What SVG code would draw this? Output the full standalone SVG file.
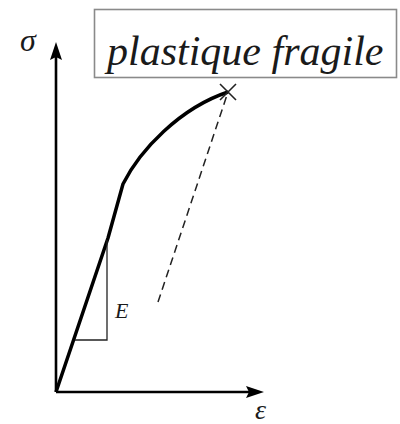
<svg xmlns="http://www.w3.org/2000/svg" width="400" height="424" viewBox="0 0 400 424">
<style>
text{font-family:"Liberation Serif",serif !important;font-style:italic !important}
</style>
<rect width="400" height="424" fill="#fff"/>
<g id="title">
<rect x="94.5" y="9.5" width="302" height="68" fill="#fff" stroke="#8a8a8a" stroke-width="1.6"/>
<text x="107" y="65" font-size="42" style="font-family:'Liberation Serif',serif !important;font-style:italic !important" fill="#1a1a1a">plastique fragile</text>
</g>
<g id="axes" stroke="#000" stroke-width="2.6" fill="none">
<line x1="56" y1="392" x2="56" y2="56"/>
<line x1="56" y1="392" x2="250" y2="392"/>
</g>
<g id="arrowheads" fill="#000">
<path d="M56,42 L62,60 L56,57 L50,60 Z"/>
<path d="M264,392 L246,386 L249,392 L246,398 Z"/>
</g>
<g id="sigma-label">
<text x="20" y="51" font-size="32" style="font-family:'Liberation Serif',serif !important;font-style:italic !important" fill="#1a1a1a">σ</text>
</g>
<g id="epsilon-label">
<text x="255" y="419" font-size="28" style="font-family:'Liberation Serif',serif !important;font-style:italic !important" fill="#1a1a1a">ε</text>
</g>
<g id="curve">
<path d="M56,392 L108,238 L123,184 C140,150 180,108 228,92" fill="none" stroke="#000" stroke-width="3.5" stroke-linejoin="round"/>
<path d="M220,84 L236,100 M236,84 L220,100" stroke="#222" stroke-width="1.6"/>
</g>
<g id="modulus">
<polyline points="75,340 107,340 107,240" fill="none" stroke="#222" stroke-width="1.3"/>
<text x="115" y="318" font-size="22" style="font-family:'Liberation Serif',serif !important;font-style:italic !important" fill="#1a1a1a">E</text>
</g>
<g id="connectors">
<line x1="158" y1="302" x2="228" y2="92" stroke="#222" stroke-width="1.5" stroke-dasharray="8,5"/>
</g>
</svg>
